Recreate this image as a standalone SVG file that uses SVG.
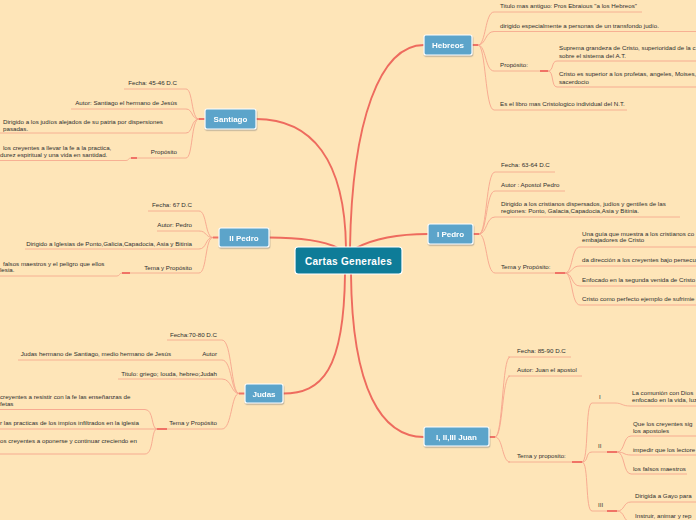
<svg xmlns="http://www.w3.org/2000/svg" width="696" height="520" viewBox="0 0 696 520">
<defs>
<filter id="sh" x="-20%" y="-30%" width="140%" height="170%"><feDropShadow dx="0.5" dy="1.2" stdDeviation="0.7" flood-color="#6d6d6d" flood-opacity="0.55"/></filter>
<style>
.t{font-family:"Liberation Sans",Arial,sans-serif;font-size:6.2px;fill:#2f2f2f}
.e{text-anchor:end}
.n rect{fill:#5BA4CA;stroke:#fff;stroke-width:1.2}
.n text{font-family:"Liberation Sans",Arial,sans-serif;font-size:8px;font-weight:bold;fill:#fff;text-anchor:middle}
.m rect{fill:#0E7C98;stroke:#fff;stroke-width:1.2}
.m text{font-family:"Liberation Sans",Arial,sans-serif;font-size:10px;font-weight:bold;fill:#fff;text-anchor:middle;letter-spacing:0.3px}
.c{fill:none;stroke:#EE6B5E;stroke-width:1.9}
.b{fill:none;stroke:#F6A48C;stroke-width:0.9}
.u{fill:none;stroke:#F6A98F;stroke-width:0.9}
.j{fill:none;stroke:#F07366;stroke-width:2}
</style>
</defs>
<rect width="696" height="520" fill="#FEE5B8"/>

<g id="connectors">
<path class="c" d="M350,248 C352,120 380,45 424,45"/>
<path class="c" d="M256,119 C312,119 345,160 346,248"/>
<path class="c" d="M269,237.5 C300,237.5 322,240 338,248"/>
<path class="c" d="M428,234 C400,234 375,238 356,248"/>
<path class="c" d="M345,274 C344,370 322,393.5 283,393.5"/>
<path class="c" d="M351,274 C352,390 382,437 424,437"/>

<path class="j" d="M472,45 H478"/>
<path class="b" d="M478,45 C486,45 485,12 494,12 M478,45 C486,45 485,31.5 494,31.5 M478,45 C486,45 485,71 494,71 M478,45 C486,45 485,110 494,110"/>
<path class="u" d="M494,12 H642 M494,31.5 H696 M494,71 H540 M494,110 H627"/>
<path class="j" d="M540,71 H548"/>
<path class="b" d="M548,71 C554,71 551,61 557,61 H696 M548,71 C554,71 551,87 557,87 H696"/>

<path class="j" d="M199,119 H205"/>
<path class="b" d="M199,119 C191,119 193,89 186,89 M199,119 C191,119 193,109 186,109 M199,119 C191,119 193,133 186,133 M199,119 C191,119 193,158 186,158"/>
<path class="u" d="M124,89 H186 M71,109 H186 M0,133 H186 M137,158 H186 M0,160.5 H126 C129,160.5 128,158 131,158"/>
<path class="j" d="M131,158 H137"/>

<path class="j" d="M213,237.5 H219"/>
<path class="b" d="M213,237.5 C205,237.5 207,211 199,211 M213,237.5 C205,237.5 207,231 199,231 M213,237.5 C205,237.5 207,249 199,249 M213,237.5 C205,237.5 207,273 199,273"/>
<path class="u" d="M148,211 H199 M157,231 H199 M25,249 H199 M130,273 H199 M0,276 H117 C120,276 119,273 122,273"/>
<path class="j" d="M122,273 H130"/>

<path class="j" d="M473,234 H479"/>
<path class="b" d="M479,234 C487,234 486,172 495,172 M479,234 C487,234 486,191 495,191 M479,234 C487,234 486,217 495,217 M479,234 C487,234 486,273 495,273"/>
<path class="u" d="M495,172 H555 M495,191 H565 M495,217 H680 M495,273 H555"/>
<path class="j" d="M555,273 H565"/>
<path class="b" d="M565,273 C573,273 571,247 580,247 H696 M565,273 C573,273 571,266 580,266 H696 M565,273 C573,273 571,286 580,286 H696 M565,273 C573,273 571,305 580,305 H696"/>

<path class="j" d="M239,393.5 H245"/>
<path class="b" d="M239,393.5 C231,393.5 232,340 222,340 M239,393.5 C231,393.5 232,360 222,360 M239,393.5 C231,393.5 232,379 222,379 M239,393.5 C231,393.5 232,429 222,429"/>
<path class="u" d="M167,340 H222 M18,360 H222 M118,379 H222 M167,429 H222"/>
<path class="j" d="M157,429 H167"/>
<path class="b" d="M157,429 C151,429 154,409.5 145,409.5 H0 M157,429 H0 M157,429 C151,429 154,454 145,454 H0"/>

<path class="j" d="M489,437 H495"/>
<path class="b" d="M495,437 C503,437 502,357 510,357 M495,437 C503,437 502,376 510,376 M495,437 C503,437 502,462 510,462"/>
<path class="u" d="M508,357 H571 M508,376 H582 M508,462 H572"/>
<path class="j" d="M572,462 H582"/>
<path class="b" d="M582,462 C589,462 585,403 592,403 M582,462 C589,462 585,452 592,452 M582,462 C589,462 585,511 592,511"/>
<path class="u" d="M592,403 H615 C622,403 622,406 630,406 H696 M592,452 H607 M592,511 H607"/>
<path class="j" d="M607,452 H617 M607,511 H617"/>
<path class="b" d="M617,452 C625,452 623,436 631,436 H696 M617,452 C625,452 623,455 631,455 H696 M617,452 C625,452 623,474 631,474 H687 M617,511 C625,511 623,502 631,502 H696 M617,511 C625,511 623,522 631,522 H696"/>
</g>

<g id="central" class="m">
<rect x="295" y="247" width="107" height="27" rx="3"/>
<text x="348.5" y="264.5">Cartas Generales</text>
</g>

<g id="hebreos" class="n" filter="url(#sh)">
<rect x="424" y="35" width="48" height="20" rx="2"/>
<text x="448" y="48">Hebreos</text>
</g>
<g id="hebreos-items">
<text class="t" x="500" y="8">Titulo mas antiguo: Pros Ebraious "a los Hebreos"</text>
<text class="t" x="500" y="27.5">dirigido especialmente a personas de un transfondo judío.</text>
<text class="t" x="500" y="67">Propósito:</text>
<text class="t" x="559" y="50">Suprema grandeza de Cristo, superioridad de la c</text>
<text class="t" x="559" y="57.5">sobre el sistema del A.T.</text>
<text class="t" x="559" y="76">Cristo es superior a los profetas, angeles, Moises,</text>
<text class="t" x="559" y="83.5">sacerdocio</text>
<text class="t" x="500" y="106">Es el libro mas Cristologico individual del N.T.</text>
</g>

<g id="santiago" class="n" filter="url(#sh)">
<rect x="205" y="109" width="51" height="20" rx="2"/>
<text x="230.5" y="122">Santiago</text>
</g>
<g id="santiago-items">
<text class="t e" x="177" y="85">Fecha: 45-46 D.C</text>
<text class="t e" x="177" y="105">Autor: Santiago el hermano de Jesús</text>
<text class="t" x="3" y="124">Dirigido a los judíos alejados de su patria por dispersiones</text>
<text class="t" x="3" y="131">pasadas.</text>
<text class="t e" x="177" y="154">Propósito</text>
<text class="t" x="3" y="150">los creyentes a llevar la fe a la practica,</text>
<text class="t" x="0" y="157">durez espiritual y una vida en santidad.</text>
</g>

<g id="iipedro" class="n" filter="url(#sh)">
<rect x="219" y="228" width="50" height="19" rx="2"/>
<text x="244" y="240.5">II Pedro</text>
</g>
<g id="iipedro-items">
<text class="t e" x="192" y="207">Fecha: 67 D.C</text>
<text class="t e" x="192" y="227">Autor: Pedro</text>
<text class="t e" x="192" y="246">Dirigido a Iglesias de Ponto,Galicia,Capadocia, Asia y Bitinia</text>
<text class="t e" x="192" y="269.5">Tema y Propósito</text>
<text class="t" x="3" y="265.5">falsos maestros y el peligro que ellos</text>
<text class="t" x="0" y="272">lesia.</text>
</g>

<g id="ipedro" class="n" filter="url(#sh)">
<rect x="428" y="224" width="45" height="20" rx="2"/>
<text x="450.5" y="237">I Pedro</text>
</g>
<g id="ipedro-items">
<text class="t" x="501" y="167">Fecha: 63-64 D.C</text>
<text class="t" x="501" y="187">Autor : Apostol Pedro</text>
<text class="t" x="501" y="206">Dirigido a los cristianos dispersados, judíos y gentiles de las</text>
<text class="t" x="501" y="213">regiones: Ponto, Galacia,Capadocia,Asia y Bitinia.</text>
<text class="t" x="501" y="268.5">Tema y Propósito:</text>
<text class="t" x="582" y="235.5">Una guía que muestra a los cristianos co</text>
<text class="t" x="582" y="242">embajadores de Cristo</text>
<text class="t" x="582" y="262">da dirección a los creyentes bajo persecu</text>
<text class="t" x="582" y="282">Enfocado en  la segunda venida de Cristo</text>
<text class="t" x="582" y="301">Cristo como perfecto ejemplo de sufrimie</text>
</g>

<g id="judas" class="n" filter="url(#sh)">
<rect x="245" y="384" width="38" height="19" rx="2"/>
<text x="264" y="396.5">Judas</text>
</g>
<g id="judas-items">
<text class="t e" x="217" y="337">Fecha:70-80 D.C</text>
<text class="t e" x="217" y="356">Autor</text>
<text class="t e" x="171" y="356">Judas hermano de Santiago, medio hermano de Jesús</text>
<text class="t e" x="217" y="376">Titulo: griego; Iouda, hebreo;Judah</text>
<text class="t e" x="217" y="425">Tema y Propósito</text>
<text class="t" x="0" y="399">creyentes a resistir con la fe las enseñanzas de</text>
<text class="t" x="0" y="406">fetas</text>
<text class="t" x="0" y="425">r las practicas de los impíos infiltrados en la iglesia</text>
<text class="t" x="0" y="443">os creyentes a oponerse y continuar creciendo en</text>
</g>

<g id="juan" class="n" filter="url(#sh)">
<rect x="424" y="427" width="65" height="19" rx="2"/>
<text x="456.5" y="439.5">I, II,III Juan</text>
</g>
<g id="juan-items">
<text class="t" x="517" y="353">Fecha: 85-90 D.C</text>
<text class="t" x="517" y="372">Autor: Juan el apostol</text>
<text class="t" x="517" y="458">Tema y proposito:</text>
<text class="t" x="599" y="399">I</text>
<text class="t" x="632" y="395">La comunión con Dios</text>
<text class="t" x="632" y="402">enfocado en la vida, luz</text>
<text class="t" x="598" y="448">II</text>
<text class="t" x="633" y="426">Que los creyentes sig</text>
<text class="t" x="633" y="432.5">los apostoles</text>
<text class="t" x="633" y="451.5">impedir que los lectore</text>
<text class="t" x="633" y="471">los falsos maestros</text>
<text class="t" x="598" y="507">III</text>
<text class="t" x="635" y="498">Dirigida a Gayo para</text>
<text class="t" x="635" y="518">Instruir, animar y rep</text>
</g>
</svg>
